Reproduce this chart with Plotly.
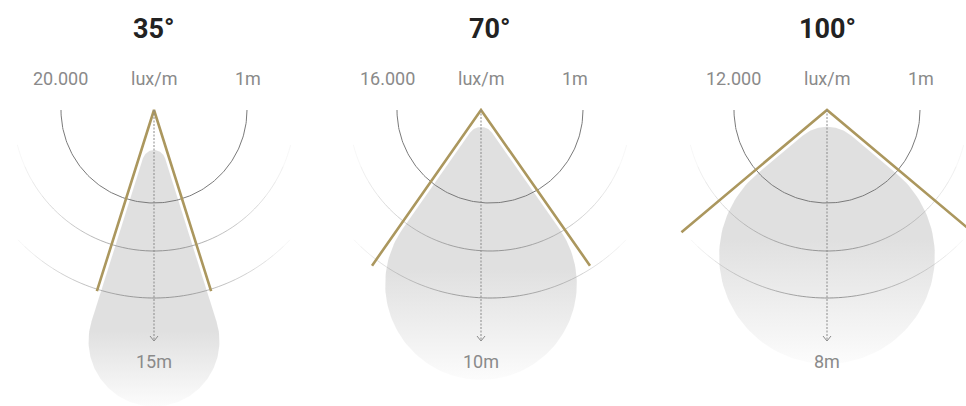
import numpy as np
import plotly.graph_objects as go

W, H = 966, 406

# ---- data ----
beam_angles = [35, 70, 100]          # beam angle, degrees
peak_lux = [20000, 16000, 12000]     # lux at 1 m
reach_m = [15, 10, 8]                # reach, metres
unit_label = "lux/m"
ref_label = "1m"

# ---- layout constants (pixels, y measured down from the top) ----
apex_x = [154, 481, 827]
ring_cx = [154, 490, 827]
apex_y = 110
ring_r = [93, 141, 188]
beam_len = 190
drop_d = [231, 174, 146]
tip_r = [11.5, 13.5, 38]
inset = 4
arrow_end = 341
fade_half = 139

GOLD = "#ab975e"
GREY_TXT = "#8a8a8a"
FONT = "Roboto"


def Y(y):
    return list(H - np.asarray(y, dtype=float))


fig = go.Figure()

# ---- light-drop shapes with vertical gradient ----
for ax, ang, D, rt in zip(apex_x, beam_angles, drop_d, tip_r):
    a = np.radians(ang / 2)
    R = D * np.sin(a) - inset
    cx, cy = ax, apex_y + D
    ty = apex_y + inset / np.sin(a)
    tcy = ty + rt / np.sin(a)
    th1 = np.linspace(np.pi + a, 2 * np.pi - a, 40)
    th2 = np.linspace(-a, np.pi + a, 120)
    xs = list(ax + rt * np.cos(th1)) + list(cx + R * np.cos(th2))
    ys = list(tcy + rt * np.sin(th1)) + list(cy + R * np.sin(th2))
    xs.append(xs[0])
    ys.append(ys[0])
    fig.add_trace(go.Scatter(
        x=xs, y=Y(ys), mode="lines", line=dict(width=0, color="rgba(0,0,0,0)"),
        fill="toself",
        fillgradient=dict(type="vertical",
                          colorscale=[[0, "#fcfcfc"], [1, "#e0e0e0"]],
                          start=H - (cy + R), stop=H - (cy - 0.15 * R)),
        hoverinfo="skip", showlegend=False))

# ---- inner semicircle (1 m) ----
ix, iy = [], []
for cx in ring_cx:
    th = np.linspace(0, np.pi, 150)
    ix += list(cx + ring_r[0] * np.cos(th)) + [None]
    iy += Y(apex_y + ring_r[0] * np.sin(th)) + [None]
fig.add_trace(go.Scatter(x=ix, y=iy, mode="lines",
                         line=dict(color="#7a7a7a", width=1),
                         hoverinfo="skip", showlegend=False))

# ---- outer fading arcs ----
levels = {}
NLEV = 14
for cx in ring_cx:
    for r in ring_r[1:]:
        t0 = np.arccos(min(fade_half / r, 1.0))
        th = np.linspace(t0, np.pi - t0, 70)
        for i in range(len(th) - 1):
            tm = 0.5 * (th[i] + th[i + 1])
            alpha = max(0.0, 1 - abs(r * np.cos(tm)) / fade_half) ** 0.85
            lev = int(round(alpha * NLEV))
            if lev == 0:
                continue
            sx = [cx + r * np.cos(th[i]), cx + r * np.cos(th[i + 1]), None]
            sy = Y([apex_y + r * np.sin(th[i]), apex_y + r * np.sin(th[i + 1])]) + [None]
            lx, ly = levels.setdefault(lev, ([], []))
            lx += sx
            ly += sy
for lev in sorted(levels):
    lx, ly = levels[lev]
    fig.add_trace(go.Scatter(
        x=lx, y=ly, mode="lines",
        line=dict(color=f"rgba(140,140,140,{0.95 * lev / NLEV:.3f})", width=1),
        hoverinfo="skip", showlegend=False))

# ---- gold beam lines ----
gx, gy = [], []
for ax, ang in zip(apex_x, beam_angles):
    a = np.radians(ang / 2)
    gx += [ax - beam_len * np.sin(a), ax, ax + beam_len * np.sin(a), None]
    gy += Y([apex_y + beam_len * np.cos(a), apex_y, apex_y + beam_len * np.cos(a)]) + [None]
fig.add_trace(go.Scatter(x=gx, y=gy, mode="lines",
                         line=dict(color=GOLD, width=2.6),
                         hoverinfo="skip", showlegend=False))

# ---- dashed reach arrows ----
dx, dy, hx, hy = [], [], [], []
for ax in apex_x:
    dx += [ax, ax, None]
    dy += Y([apex_y, arrow_end]) + [None]
    hx += [ax - 4, ax, ax + 4, None]
    hy += Y([arrow_end - 5, arrow_end, arrow_end - 5]) + [None]
fig.add_trace(go.Scatter(x=dx, y=dy, mode="lines",
                         line=dict(color="#8a8a8a", width=1, dash="2px,1.5px"),
                         hoverinfo="skip", showlegend=False))
fig.add_trace(go.Scatter(x=hx, y=hy, mode="lines",
                         line=dict(color="#8a8a8a", width=1),
                         hoverinfo="skip", showlegend=False))

# ---- text ----
ann = []
for ax, rcx, ang, lux, reach in zip(apex_x, ring_cx, beam_angles, peak_lux, reach_m):
    ann.append(dict(x=rcx, y=H - 29, text=f"<b>{ang}°</b>",
                    font=dict(family=FONT, size=27, color="#222222")))
    ann.append(dict(x=ax - 94, y=H - 78, text=f"{lux:,}".replace(",", "."),
                    font=dict(family=FONT, size=18, color=GREY_TXT)))
    ann.append(dict(x=ax, y=H - 78, text=unit_label,
                    font=dict(family=FONT, size=18, color=GREY_TXT)))
    ann.append(dict(x=ax + 94, y=H - 78, text=ref_label,
                    font=dict(family=FONT, size=18, color=GREY_TXT)))
    ann.append(dict(x=ax, y=H - 361, text=f"{reach}m",
                    font=dict(family=FONT, size=18, color=GREY_TXT)))
for a in ann:
    a.update(xref="x", yref="y", showarrow=False, xanchor="center", yanchor="middle")

fig.update_layout(
    width=W, height=H, margin=dict(l=0, r=0, t=0, b=0, pad=0),
    paper_bgcolor="white", plot_bgcolor="white",
    xaxis=dict(range=[0, W], visible=False, fixedrange=True),
    yaxis=dict(range=[0, H], visible=False, fixedrange=True),
    annotations=ann, showlegend=False,
)

fig.write_html("out.html", config={"displayModeBar": False},
               post_script="document.body.style.margin='0';document.body.style.overflow='hidden';")
